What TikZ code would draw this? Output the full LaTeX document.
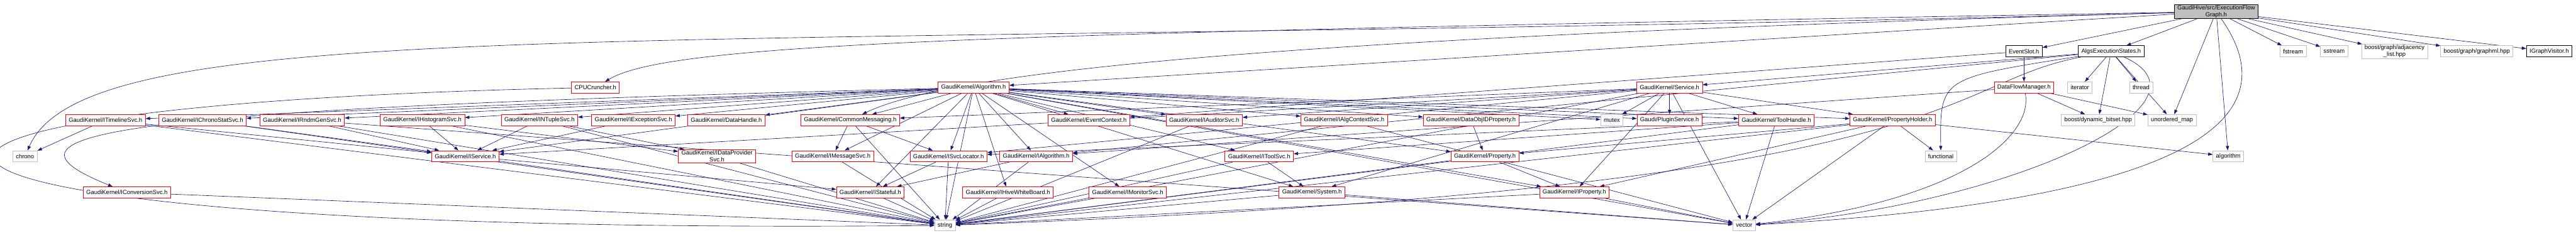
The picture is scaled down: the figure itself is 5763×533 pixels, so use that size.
\documentclass[tikz,border=0pt]{standalone}
\usepackage{fontspec}
\setmainfont{Liberation Sans}
\usetikzlibrary{arrows.meta}
\definecolor{depblue}{RGB}{25,25,112}
\definecolor{sysgray}{RGB}{191,191,191}
\pgfdeclarelayer{bg}
\pgfsetlayers{bg,main}

\begin{document}
\begin{tikzpicture}[x=1pt,y=-1pt,font=\fontsize{13.3}{15}\selectfont,>={Triangle[length=10pt,width=7pt]},
      hb/.style={draw=red,fill=white,line width=1pt,minimum height=25pt,inner xsep=7pt,inner ysep=2pt},
      sb/.style={hb,draw=sysgray},
      db/.style={hb,draw=black},
      dep/.style={->,depblue,line width=0.9pt}]
    \useasboundingbox (0,0) rectangle (5763,533);
    \node[db,fill=sysgray,align=center] (rt) at (4958,26) {GaudiHive/src/ExecutionFlow\\Graph.h};
    \node[db] (es) at (4528,115) {EventSlot.h};
    \node[db] (aes) at (4723,115) {AlgsExecutionStates.h};
    \node[sb] (fst) at (5130,115) {fstream};
    \node[sb] (sst) at (5222,115) {sstream};
    \node[sb,align=center] (adj) at (5357,115) {boost/graph/adjacency\\\_list.hpp};
    \node[sb] (gml) at (5541,115) {boost/graph/graphml.hpp};
    \node[db] (igv) at (5703,115) {IGraphVisitor.h};

    \node[hb] (cpu) at (1332,196) {CPUCruncher.h};
    \node[hb] (alg) at (2178,196) {GaudiKernel/Algorithm.h};
    \node[hb] (svc) at (3735,196) {GaudiKernel/Service.h};
    \node[hb] (dfm) at (4528,196) {DataFlowManager.h};
    \node[sb] (itr) at (4653,196) {iterator};
    \node[sb] (thr) at (4790,196) {thread};

    \node[hb] (tml) at (236,269) {GaudiKernel/ITimelineSvc.h};
    \node[hb] (chs) at (453,269) {GaudiKernel/IChronoStatSvc.h};
    \node[hb] (rnd) at (676,269) {GaudiKernel/IRndmGenSvc.h};
    \node[hb] (hst) at (945,269) {GaudiKernel/IHistogramSvc.h};
    \node[hb] (ntp) at (1207,269) {GaudiKernel/INTupleSvc.h};
    \node[hb] (exc) at (1417,269) {GaudiKernel/IExceptionSvc.h};
    \node[hb] (dh) at (1625,269) {GaudiKernel/DataHandle.h};
    \node[hb] (cmsg) at (1902,269) {GaudiKernel/CommonMessaging.h};
    \node[hb] (evc) at (2436,269) {GaudiKernel/EventContext.h};
    \node[hb] (aud) at (2694,269) {GaudiKernel/IAuditorSvc.h};
    \node[hb] (actx) at (3007,269) {GaudiKernel/IAlgContextSvc.h};
    \node[hb] (doid) at (3291,269) {GaudiKernel/DataObjIDProperty.h};
    \node[sb] (mtx) at (3606,269) {mutex};
    \node[hb] (plg) at (3735,269) {Gaudi/PluginService.h};
    \node[hb] (th) at (3974,269) {GaudiKernel/ToolHandle.h};
    \node[hb] (ph) at (4234,269) {GaudiKernel/PropertyHolder.h};
    \node[sb] (dbs) at (4694,269) {boost/dynamic\_bitset.hpp};
    \node[sb] (umap) at (4859,269) {unordered\_map};

    \node[sb] (chr) at (56,350) {chrono};
    \node[hb] (isv) at (1041,350) {GaudiKernel/IService.h};
    \node[hb,align=center] (dps) at (1604,350) {GaudiKernel/IDataProvider\\Svc.h};
    \node[hb] (msv) at (1863,350) {GaudiKernel/IMessageSvc.h};
    \node[hb] (slc) at (2122,350) {GaudiKernel/ISvcLocator.h};
    \node[hb] (ialg) at (2318,350) {GaudiKernel/IAlgorithm.h};
    \node[hb] (tsv) at (2817,350) {GaudiKernel/IToolSvc.h};
    \node[hb] (prop) at (3322,350) {GaudiKernel/Property.h};
    \node[sb] (fnc) at (4342,350) {functional};
    \node[sb] (algo) at (4985,350) {algorithm};

    \node[hb] (conv) at (284,431) {GaudiKernel/IConversionSvc.h};
    \node[hb] (stf) at (1947,431) {GaudiKernel/IStateful.h};
    \node[hb] (hwb) at (2255,431) {GaudiKernel/IHiveWhiteBoard.h};
    \node[hb] (mon) at (2523,431) {GaudiKernel/IMonitorSvc.h};
    \node[hb] (sys) at (2935,431) {GaudiKernel/System.h};
    \node[hb] (iprp) at (3522,431) {GaudiKernel/IProperty.h};

    \node[sb] (str) at (2114,505) {string};
    \node[sb] (vec) at (3902,505) {vector};

    \begin{pgfonlayer}{bg}
    \foreach \dst in {es,aes,fst,sst,adj,gml,igv,algo,umap,alg}
      \draw[dep] (rt) -- (\dst);
    \draw[dep] (rt) .. controls (1500,120) and (200,20) .. (chr);
    \draw[dep] (rt) .. controls (2200,75) and (1500,95) .. (cpu);
    \draw[dep] (rt) .. controls (3000,80) and (2150,150) .. (cmsg);
    \draw[dep] (rt) .. controls (5080,200) and (5080,440) .. (vec);
    \foreach \dst in {dfm,evc}
      \draw[dep] (es) -- (\dst);
    \foreach \dst in {svc,itr,thr,dbs,umap,ialg}
      \draw[dep] (aes) -- (\dst);
    \draw[dep] (aes) .. controls (4340,175) .. (fnc);
    \draw[dep] (aes) .. controls (4330,190) and (4420,420) .. (str);
    \draw[dep] (aes) .. controls (4980,230) and (4500,460) .. (vec);
    \foreach \dst in {dbs,umap,ialg}
      \draw[dep] (dfm) -- (\dst);
    \draw[dep] (dfm) .. controls (4550,300) and (4400,450) .. (vec);
    \draw[dep] (cpu) .. controls (-650,240) and (-450,530) .. (str);
    \foreach \dst in {tml,chs,rnd,hst,ntp,exc,dh,cmsg,evc,aud,actx,doid,mtx,plg,th,ph,
        msv,slc,ialg,tsv,prop,hwb,mon,sys,stf,isv,iprp,str,vec}
      \draw[dep] (alg) -- (\dst);
    \draw[dep] (alg) .. controls (200,245) and (-40,300) .. (conv);
    \foreach \dst in {mtx,plg,th,ph,cmsg,aud,isv,slc,sys,iprp,str,vec}
      \draw[dep] (svc) -- (\dst);
    \foreach \src/\dst in {th/tsv,th/slc,th/str,th/vec,ph/iprp,ph/prop,ph/fnc,ph/algo,ph/str,ph/vec,
        doid/prop,prop/iprp,prop/str,tsv/sys,tsv/str,actx/str,actx/vec,cmsg/msv,cmsg/slc,cmsg/str,
        msv/str,slc/stf,slc/str,ialg/stf,ialg/str,isv/stf,isv/str,hwb/str,mon/str,aud/str,stf/str,
        dps/str,conv/str,sys/str,sys/vec,iprp/str,iprp/vec,tml/chr,tml/isv,tml/str,chs/isv,chs/str,
        rnd/isv,rnd/str,rnd/vec,hst/isv,hst/dps,hst/str,ntp/isv,ntp/dps,ntp/str,exc/isv}
      \draw[dep] (\src) -- (\dst);
    \end{pgfonlayer}
  \end{tikzpicture}
\end{document}
